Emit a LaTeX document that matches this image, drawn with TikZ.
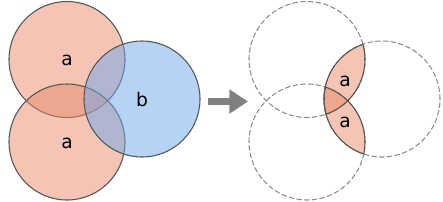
\documentclass[tikz,border=0pt]{standalone}
\usepackage{fontspec}
\setsansfont{DejaVu Sans}
\usepackage{tikz}
\usetikzlibrary{arrows.meta}
\usepackage{xcolor}
\definecolor{setA}{HTML}{E98A6A}
\definecolor{setB}{HTML}{6DA7EB}
\definecolor{edge}{HTML}{555555}
\definecolor{ghost}{HTML}{8C8C8C}
\definecolor{pointer}{HTML}{808080}

\begin{document}
\begin{tikzpicture}[x=0.75pt,y=-0.75pt,font=\sffamily\fontsize{14}{16}\selectfont,line cap=round,
  disc/.style={circle,minimum size=87pt,inner sep=0pt,outer sep=0pt},
  solid disc/.style={disc,draw=edge,line width=0.8pt,fill opacity=0.5},
  ghost disc/.style={disc,draw=ghost,line width=0.8pt,dash pattern=on 3.6pt off 2.2pt}]
\useasboundingbox (0,0) rectangle (443,201);
\node[solid disc,fill=setA] (a1) at (67,59.5) {};
\node[solid disc,fill=setA] (a2) at (67,142) {};
\node[solid disc,fill=setB] (b) at (142,99) {};
\node (la1) at (67,60) {a};
\node (la2) at (67,143) {a};
\node (lb) at (142,100) {b};
\draw[pointer,line cap=butt,line width=5.2pt,-{Triangle[length=14pt,width=17.5pt]}] (208,101.5) -- (248,101.5);
\node[ghost disc] (c1) at (307,59.5) {};
\node[ghost disc] (c2) at (307,142) {};
\node[ghost disc] (d) at (382,99) {};
\begin{scope}
\clip (d.center) circle (43.5pt);
\fill[setA,fill opacity=0.5] (c1.center) circle (43.5pt);
\fill[setA,fill opacity=0.5] (c2.center) circle (43.5pt);
\draw[edge,line width=0.8pt] (c1.center) circle (43.5pt);
\draw[edge,line width=0.8pt] (c2.center) circle (43.5pt);
\end{scope}
\begin{scope}
\clip (c1.center) circle (43.5pt);
\draw[edge,line width=0.8pt] (d.center) circle (43.5pt);
\end{scope}
\begin{scope}
\clip (c2.center) circle (43.5pt);
\draw[edge,line width=0.8pt] (d.center) circle (43.5pt);
\end{scope}
\node (lc1) at (345,81) {a};
\node (lc2) at (345,122) {a};
\end{tikzpicture}
\end{document}
